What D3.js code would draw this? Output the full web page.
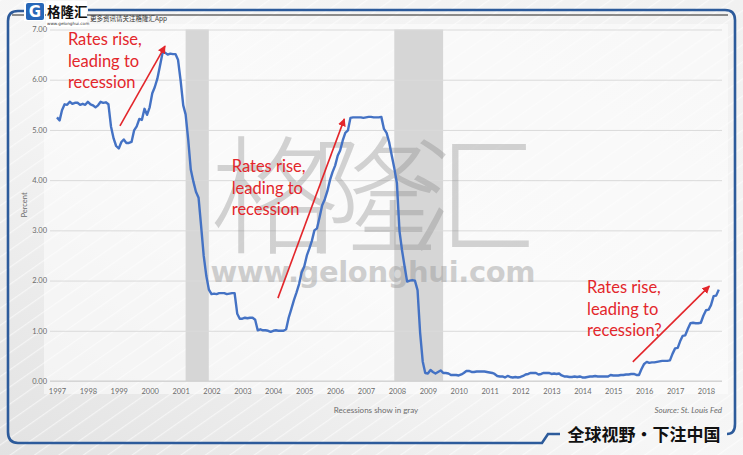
<!DOCTYPE html>
<html>
<head>
<meta charset="utf-8">
<script src="https://cdn.jsdelivr.net/npm/d3@7"></script>
<style>
  body { margin: 0; background: #fff; }
  svg { display: block; }
  .tick text { font-family: Lato, "Liberation Sans", sans-serif; fill: #6b6b6b; }
  .note { font-family: Lato, "Open Sans", sans-serif; fill: #e3262b; font-size: 16.5px; }
</style>
</head>
<body>
<svg width="743" height="455"></svg>
<script>
// effective fed funds rate, monthly, Jan 1997 .. Jun 2018
const startYear = 1997
const rates = [
  5.25, 5.19, 5.39, 5.51, 5.50, 5.56, 5.52, 5.54, 5.54, 5.50, 5.52, 5.50, // 1997
  5.56, 5.51, 5.49, 5.45, 5.49, 5.56, 5.54, 5.55, 5.51, 5.07, 4.83, 4.68, // 1998
  4.63, 4.76, 4.81, 4.74, 4.74, 4.76, 4.99, 5.07, 5.22, 5.20, 5.42, 5.30, // 1999
  5.45, 5.73, 5.85, 6.02, 6.27, 6.53, 6.54, 6.50, 6.52, 6.51, 6.51, 6.40, // 2000
  5.98, 5.49, 5.31, 4.80, 4.21, 3.97, 3.77, 3.65, 3.07, 2.49, 2.09, 1.82, // 2001
  1.73, 1.74, 1.73, 1.75, 1.75, 1.75, 1.73, 1.74, 1.75, 1.75, 1.34, 1.24, // 2002
  1.24, 1.26, 1.25, 1.26, 1.26, 1.22, 1.01, 1.03, 1.01, 1.01, 1.00, 0.98, // 2003
  1.00, 1.01, 1.00, 1.00, 1.00, 1.03, 1.26, 1.43, 1.61, 1.76, 1.93, 2.16, // 2004
  2.28, 2.50, 2.63, 2.79, 3.00, 3.04, 3.26, 3.50, 3.62, 3.78, 4.00, 4.16, // 2005
  4.29, 4.49, 4.59, 4.79, 4.94, 4.99, 5.24, 5.25, 5.25, 5.25, 5.25, 5.24, // 2006
  5.25, 5.26, 5.26, 5.25, 5.25, 5.25, 5.26, 5.02, 4.94, 4.76, 4.49, 4.24, // 2007
  3.94, 2.98, 2.61, 2.28, 1.98, 2.00, 2.01, 2.00, 1.81, 0.97, 0.39, 0.16, // 2008
  0.15, 0.22, 0.18, 0.15, 0.18, 0.21, 0.16, 0.16, 0.15, 0.12, 0.12, 0.12, // 2009
  0.11, 0.13, 0.16, 0.20, 0.20, 0.18, 0.18, 0.19, 0.19, 0.19, 0.19, 0.18, // 2010
  0.17, 0.16, 0.14, 0.10, 0.09, 0.09, 0.07, 0.10, 0.08, 0.07, 0.08, 0.07, // 2011
  0.08, 0.10, 0.13, 0.14, 0.16, 0.16, 0.16, 0.13, 0.14, 0.16, 0.16, 0.16, // 2012
  0.14, 0.15, 0.14, 0.15, 0.11, 0.09, 0.09, 0.08, 0.08, 0.09, 0.08, 0.09, // 2013
  0.07, 0.07, 0.08, 0.09, 0.09, 0.10, 0.09, 0.09, 0.09, 0.09, 0.09, 0.12, // 2014
  0.11, 0.11, 0.11, 0.12, 0.12, 0.13, 0.13, 0.14, 0.14, 0.12, 0.12, 0.24, // 2015
  0.34, 0.38, 0.36, 0.37, 0.37, 0.38, 0.39, 0.40, 0.40, 0.40, 0.41, 0.54, // 2016
  0.65, 0.66, 0.79, 0.90, 0.91, 1.04, 1.15, 1.16, 1.15, 1.15, 1.16, 1.30, // 2017
  1.41, 1.42, 1.51, 1.69, 1.70, 1.82                                      // 2018
]
const recessions = [['2001-03-01','2001-11-30'],['2007-12-01','2009-06-30']]
const yearTicks = d3.range(1997, 2019)
const yTicks = [0,1,2,3,4,5,6,7]
const notes = [
  {x:'1997-05-10', y:6.69, lines:['Rates rise,','leading to','recession'], from:['1999-01-15',5.08], to:['2000-07-01',6.67]},
  {x:'2002-08-28', y:4.16, lines:['Rates rise,','leading to','recession'], from:['2004-02-25',1.65], to:['2006-04-20',5.22]},
  {x:'2014-02-25', y:1.75, lines:['Rates rise,','leading to','recession?'], from:['2015-08-20',0.38], to:['2018-02-10',1.89]}
]

const svg = d3.select('svg')
const parse = d3.utcParse('%Y-%m-%d')
const series = rates.map((v,i) => ({date: new Date(Date.UTC(startYear, i, 1)), v}))

const x = d3.scaleUtc()
  .domain([new Date(Date.UTC(1997,0,1)), new Date(Date.UTC(2018,0,1))])
  .range([57, 706])
const y = d3.scaleLinear().domain([0,7]).range([381, 29.5])

/* background */
const defs = svg.append('defs')
const bg = defs.append('linearGradient').attr('id','bg').attr('x1',0).attr('y1',1).attr('x2',1).attr('y2',0)
bg.append('stop').attr('offset',0).attr('stop-color','#e2e2e2')
bg.append('stop').attr('offset',0.45).attr('stop-color','#f6f6f6')
bg.append('stop').attr('offset',1).attr('stop-color','#f1f1f1')
const streak = defs.append('pattern').attr('id','streak').attr('patternUnits','userSpaceOnUse')
  .attr('width',14).attr('height',14).attr('patternTransform','rotate(-35)')
streak.append('rect').attr('width',14).attr('height',1.2).attr('fill','#fff').attr('opacity',0.55)
svg.append('rect').attr('width',743).attr('height',455).attr('fill','url(#bg)')
svg.append('rect').attr('width',743).attr('height',455).attr('fill','url(#streak)')
svg.append('rect').attr('x',44).attr('y',24).attr('width',684).attr('height',370).attr('fill','#fdfdfd').attr('opacity',0.55)

/* recessions */
svg.append('g').selectAll('rect').data(recessions).join('rect')
  .attr('x', d => x(parse(d[0])))
  .attr('width', d => x(parse(d[1])) - x(parse(d[0])))
  .attr('y', y(7)).attr('height', y(0) - y(7))
  .attr('fill','#d6d6d6')

/* grid + y axis */
const yAxis = svg.append('g').attr('transform','translate(50,0)')
  .call(d3.axisLeft(y).tickValues(yTicks).tickFormat(d3.format('.2f')).tickSize(-672).tickPadding(3))
yAxis.select('.domain').remove()
yAxis.selectAll('.tick line').attr('stroke','#dadada').attr('stroke-width',1)
yAxis.selectAll('.tick text').attr('font-size',7.5).attr('dy','0.3em')

const xAxis = svg.append('g').attr('transform','translate(0,381)')
  .call(d3.axisBottom(x).tickValues(yearTicks.map(t => new Date(Date.UTC(t,0,1)))).tickFormat(d3.utcFormat('%Y')).tickSize(0).tickPadding(8))
xAxis.select('.domain').attr('stroke','#d0d0d0').attr('d','M50,0H722')
xAxis.selectAll('.tick text').attr('font-size',7.5)

svg.append('text').attr('transform','translate(27,205) rotate(-90)').attr('text-anchor','middle')
  .attr('font-family','Lato, sans-serif').attr('font-size',7.5).attr('fill','#6b6b6b').text('Percent')
svg.append('text').attr('x',376).attr('y',413).attr('text-anchor','middle')
  .attr('font-family','Lato, sans-serif').attr('font-size',8).attr('fill','#6b6b6b').text('Recessions show in gray')
svg.append('text').attr('x',722).attr('y',413).attr('text-anchor','end').attr('font-style','italic')
  .attr('font-family','Lato, sans-serif').attr('font-size',8).attr('fill','#6b6b6b').text('Source: St. Louis Fed')

/* watermark */
svg.append('text').attr('x',373).attr('y',244).attr('text-anchor','middle')
  .attr('font-family','"Noto Sans CJK SC", sans-serif').attr('font-weight',300).attr('font-size',128)
  .attr('textLength',325).attr('fill','#8a8a8a').attr('opacity',0.36).text('格隆汇')
svg.append('text').attr('x',373).attr('y',282).attr('text-anchor','middle')
  .attr('font-family','"DejaVu Sans", sans-serif').attr('font-weight','bold').attr('font-size',29)
  .attr('textLength',325).attr('fill','#9a9a9a').attr('opacity',0.45).text('www.gelonghui.com')

/* the rate line */
svg.append('path').datum(series)
  .attr('fill','none').attr('stroke','#4472c4').attr('stroke-width',2.4).attr('stroke-linejoin','round')
  .attr('d', d3.line().x(d => x(d.date)).y(d => y(d.v)))

/* annotations */
defs.append('marker').attr('id','head').attr('viewBox','0 0 10 10').attr('refX',9).attr('refY',5)
  .attr('markerWidth',5).attr('markerHeight',5).attr('orient','auto')
  .append('path').attr('d','M0,0L10,5L0,10z').attr('fill','#e3262b')
const $notes = svg.append('g').selectAll('g').data(notes).join('g')
$notes.append('line')
  .attr('x1', d => x(parse(d.from[0]))).attr('y1', d => y(d.from[1]))
  .attr('x2', d => x(parse(d.to[0]))).attr('y2', d => y(d.to[1]))
  .attr('stroke','#e3262b').attr('stroke-width',1.6).attr('marker-end','url(#head)')
$notes.append('text').attr('class','note')
  .attr('x', d => x(parse(d.x))).attr('y', d => y(d.y))
  .selectAll('tspan').data(d => d.lines).join('tspan')
  .attr('x', function(){ return this.parentNode.getAttribute('x') })
  .attr('dy', (d,i) => i ? 21.5 : 0).text(d => d)

/* frame and branding */
const blue = '#2d5b9b'
svg.append('path').attr('fill','none').attr('stroke',blue).attr('stroke-width',2.6)
  .attr('d','M26,11H18Q8,11 8,21V432Q8,443 18,443H542L548,434H560')
svg.append('path').attr('fill','none').attr('stroke',blue).attr('stroke-width',2.6)
  .attr('d','M88,10H725Q735,10 735,20V424Q735,434 727,434')
svg.append('line').attr('x1',12).attr('x2',728).attr('y1',15).attr('y2',15).attr('stroke','#222').attr('stroke-width',1)
svg.append('rect').attr('x',24).attr('y',2).attr('width',21).attr('height',19).attr('fill','#fff')
svg.append('rect').attr('x',26).attr('y',3).attr('width',18).attr('height',17).attr('rx',2).attr('fill','#2767b8')
svg.append('text').attr('x',35).attr('y',17).attr('text-anchor','middle').attr('font-family','"DejaVu Sans", sans-serif')
  .attr('font-weight','bold').attr('font-size',15).attr('fill','#fff').text('G')
svg.append('rect').attr('x',46).attr('y',1).attr('width',41).attr('height',26).attr('fill','#fff')
svg.append('text').attr('x',47).attr('y',17).attr('font-family','"Noto Sans CJK SC", sans-serif').attr('font-weight','bold')
  .attr('font-size',13.5).attr('fill','#111').text('格隆汇')
svg.append('text').attr('x',47).attr('y',25).attr('font-family','"DejaVu Sans", sans-serif')
  .attr('font-size',4.2).attr('fill','#333').text('www.gelonghui.com')
svg.append('text').attr('x',90).attr('y',21).attr('font-family','"Noto Sans CJK SC", sans-serif')
  .attr('font-size',6.5).attr('fill','#333').text('更多资讯请关注格隆汇App')
svg.append('text').attr('x',644).attr('y',441).attr('text-anchor','middle').attr('font-family','"Noto Sans CJK SC", sans-serif')
  .attr('font-weight','bold').attr('font-size',17).attr('fill','#111').text('全球视野・下注中国')
</script>
</body>
</html>
